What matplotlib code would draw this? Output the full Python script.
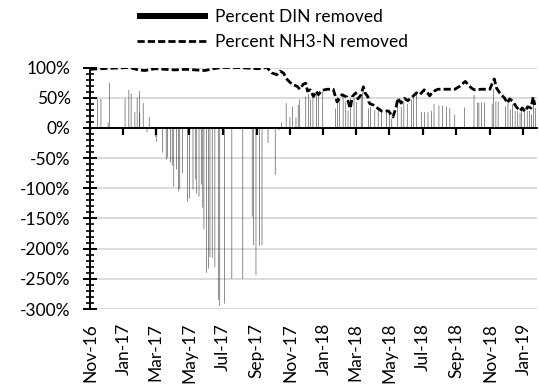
import matplotlib
matplotlib.use("Agg")
import matplotlib.pyplot as plt
import matplotlib.dates as mdates
from matplotlib.lines import Line2D
from matplotlib.ticker import MultipleLocator, PercentFormatter
import pandas as pd

plt.rcParams["font.family"] = ["Lato", "DejaVu Sans"]
plt.rcParams["axes.unicode_minus"] = False

# Percent DIN removed (columns)
din_dates = [
    "2016-11-15", "2016-11-21", "2016-12-04", "2016-12-07", "2017-01-04", "2017-01-11",
    "2017-01-15", "2017-01-22", "2017-01-26", "2017-01-30", "2017-01-31", "2017-02-06",
    "2017-02-13", "2017-02-17", "2017-02-28", "2017-03-03", "2017-03-13", "2017-03-20",
    "2017-03-23", "2017-03-28", "2017-03-31", "2017-04-03", "2017-04-08", "2017-04-12",
    "2017-04-14", "2017-04-19", "2017-04-28", "2017-05-02", "2017-05-08", "2017-05-12",
    "2017-05-15", "2017-05-19", "2017-05-23", "2017-05-26", "2017-05-28", "2017-06-02",
    "2017-06-05", "2017-06-08", "2017-06-12", "2017-06-17", "2017-06-23", "2017-06-26",
    "2017-07-05", "2017-07-18", "2017-08-07", "2017-08-24", "2017-08-27", "2017-08-31",
    "2017-09-06", "2017-09-11", "2017-09-22", "2017-10-05", "2017-10-12", "2017-10-17",
    "2017-10-25", "2017-11-01", "2017-11-06", "2017-11-12", "2017-11-16", "2017-11-19",
    "2017-11-30", "2017-12-05", "2017-12-09", "2017-12-13", "2017-12-19", "2017-12-23",
    "2017-12-31", "2018-01-23", "2018-01-27", "2018-01-31", "2018-02-06", "2018-02-11",
    "2018-02-15", "2018-02-20", "2018-02-26", "2018-03-03", "2018-03-11", "2018-03-14",
    "2018-03-24", "2018-03-28", "2018-04-05", "2018-04-11", "2018-04-17", "2018-04-26",
    "2018-05-02", "2018-05-06", "2018-05-16", "2018-05-23", "2018-05-28", "2018-06-03",
    "2018-06-11", "2018-06-15", "2018-06-20", "2018-06-29", "2018-07-05", "2018-07-11",
    "2018-07-17", "2018-07-22", "2018-07-31", "2018-08-06", "2018-08-14", "2018-08-20",
    "2018-08-29", "2018-09-16", "2018-10-03", "2018-10-09", "2018-10-12", "2018-10-17",
    "2018-10-22", "2018-11-05", "2018-11-08", "2018-11-12", "2018-11-16", "2018-11-30",
    "2018-12-04", "2018-12-08", "2018-12-12", "2018-12-17", "2018-12-22", "2018-12-26",
    "2018-12-29", "2019-01-03", "2019-01-08", "2019-01-12", "2019-01-16", "2019-01-20",
    "2019-01-23",
]
din_removed = [
    48, 48, 9, 75, 49, 63,
    57, 26, 50, 61, 25, 41,
    -7, 18, -15, -23, -41, -53,
    -49, -57, -62, -97, -69, -105,
    -101, -75, -122, -117, -102, -85,
    -109, -114, -94, -132, -168, -240,
    -233, -214, -215, -231, -285, -295,
    -291, -250, -250, -147, -194, -244,
    -195, -194, -25, -78, -4, 9,
    41, 18, 35, 17, 38, 47,
    52, 56, 47, 53, 59, 54,
    60, 32, 52, 46, 51, 43,
    29, 49, 50, 43, 51, 59,
    32, 35, 29, 29, 29, 29,
    24, 15, 49, 35, 43, 40,
    47, 51, 58, 26, 26, 26,
    28, 40, 37, 37, 35, 33,
    22, 34, 55, 42, 42, 42,
    42, 40, 64, 44, 43, 35,
    41, 30, 39, 28, 28, 25,
    29, 28, 28, 28, 22, 50,
    33,
]

# Percent NH3-N removed (dashed line)
nh3_dates = [
    "2016-11-01", "2016-11-19", "2016-12-17", "2017-01-13", "2017-01-28", "2017-02-09",
    "2017-02-28", "2017-03-18", "2017-04-05", "2017-04-24", "2017-05-12", "2017-05-30",
    "2017-06-14", "2017-06-30", "2017-07-24", "2017-08-17", "2017-09-04", "2017-09-20",
    "2017-09-29", "2017-10-08", "2017-10-14", "2017-10-20", "2017-10-27", "2017-11-05",
    "2017-11-14", "2017-11-19", "2017-11-25", "2017-11-30", "2017-12-03", "2017-12-08",
    "2017-12-14", "2017-12-19", "2017-12-23", "2017-12-29", "2018-01-08", "2018-01-19",
    "2018-01-26", "2018-01-30", "2018-02-04", "2018-02-13", "2018-02-19", "2018-02-23",
    "2018-03-01", "2018-03-05", "2018-03-11", "2018-03-15", "2018-03-18", "2018-03-23",
    "2018-03-25", "2018-03-27", "2018-04-02", "2018-04-11", "2018-04-17", "2018-04-26",
    "2018-04-30", "2018-05-08", "2018-05-14", "2018-05-17", "2018-05-23", "2018-05-29",
    "2018-06-04", "2018-06-12", "2018-06-20", "2018-06-26", "2018-07-04", "2018-07-09",
    "2018-07-14", "2018-07-20", "2018-07-29", "2018-08-14", "2018-08-29", "2018-09-07",
    "2018-09-17", "2018-09-28", "2018-10-04", "2018-10-17", "2018-11-01", "2018-11-04",
    "2018-11-09", "2018-11-13", "2018-11-19", "2018-11-28", "2018-12-03", "2018-12-07",
    "2018-12-13", "2018-12-19", "2018-12-26", "2018-12-30", "2019-01-04", "2019-01-09",
    "2019-01-15", "2019-01-19", "2019-01-22",
]
nh3_removed = [
    97, 98, 99, 100, 96, 95,
    98, 97, 96, 97, 96, 95,
    98, 100, 100, 99, 98, 100,
    91, 88, 94, 91, 80, 72,
    69, 64, 72, 74, 61, 63,
    52, 61, 55, 62, 64, 64,
    43, 49, 55, 51, 32, 52,
    58, 48, 55, 68, 58, 52,
    43, 40, 38, 32, 28, 28,
    28, 18, 35, 49, 41, 49,
    45, 51, 58, 55, 63, 60,
    53, 60, 64, 64, 64, 69,
    77, 66, 63, 64, 64, 71,
    81, 66, 58, 49, 41, 48,
    44, 35, 28, 33, 27, 35,
    33, 51, 38,
]

x_start, x_end = "2016-11-01", "2019-01-26"

fig = plt.figure(figsize=(5.39, 3.88), dpi=100)
ax = fig.add_axes([90 / 539, 1 - 309 / 388, 447 / 539, 241.5 / 388])

din_x = pd.to_datetime(din_dates)
nh3_x = pd.to_datetime(nh3_dates)

ax.bar(din_x, din_removed, width=0.8, color="black", linewidth=0, snap=False, zorder=2)
ax.plot(nh3_x, nh3_removed, color="black", linewidth=2.0, dashes=(2.6, 1.1), zorder=3)

ax.set_xlim(pd.Timestamp(x_start), pd.Timestamp(x_end))
ax.set_ylim(-300, 100)

# horizontal gridlines
ax.yaxis.set_major_locator(MultipleLocator(50))
ax.yaxis.set_minor_locator(MultipleLocator(10))
ax.yaxis.set_major_formatter(PercentFormatter(decimals=0))
ax.grid(axis="y", which="major", color="#d9d9d9", linewidth=1.3, zorder=0)
ax.set_axisbelow(True)

for s in ["top", "right"]:
    ax.spines[s].set_visible(False)
ax.spines["left"].set_linewidth(1.4)
ax.spines["bottom"].set_position(("data", 0))
ax.spines["bottom"].set_linewidth(1.4)

ax.tick_params(axis="y", which="major", direction="inout", length=10, width=1.4,
               labelsize=12.5, pad=9, colors="black")
ax.tick_params(axis="y", which="minor", direction="inout", length=6, width=1.2)

months = mdates.MonthLocator(bymonth=[1, 3, 5, 7, 9, 11])
ax.xaxis.set_major_locator(months)
ax.tick_params(axis="x", which="major", direction="out", length=5, width=1.6,
               labelbottom=False)

# month labels sit at the bottom edge of the plot area
low = ax.secondary_xaxis("bottom")
low.xaxis.set_major_locator(mdates.MonthLocator(bymonth=[1, 3, 5, 7, 9, 11]))
low.xaxis.set_major_formatter(mdates.DateFormatter("%b-%y"))
low.spines["bottom"].set_visible(False)
low.tick_params(axis="x", length=0, pad=10, labelsize=12.5, labelrotation=90)

handles = [
    Line2D([], [], color="black", linewidth=4.3, solid_capstyle="butt"),
    Line2D([], [], color="black", linewidth=2.0, dashes=(2.6, 1.1)),
]
labels = ["Percent DIN removed", "Percent NH3-N removed"]
fig.legend(handles, labels, loc="upper center", bbox_to_anchor=(0.505, 1.018),
           frameon=False, fontsize=12.5, handlelength=4.1, handletextpad=0.4,
           labelspacing=0.52)

fig.savefig("out.png", dpi=100)
